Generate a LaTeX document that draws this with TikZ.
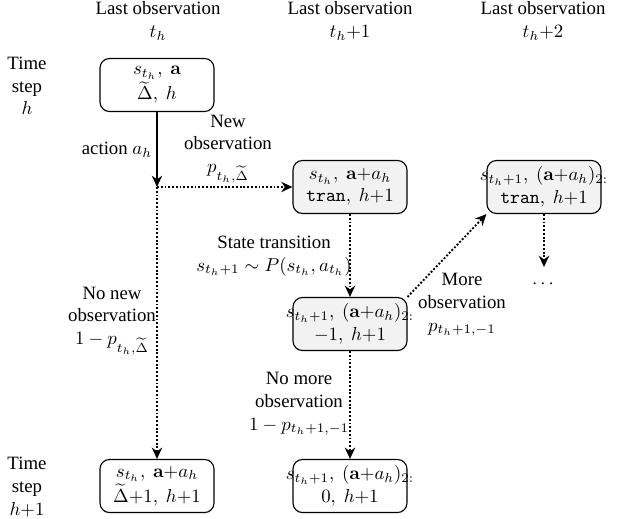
\documentclass[tikz,border=0pt]{standalone}
\usepackage[no-math]{fontspec}
\setmainfont{Liberation Serif}
\usetikzlibrary{arrows.meta}
\begin{document}
\begin{tikzpicture}[x=0.5319pt,y=-0.5319pt,
  statebox/.style={draw, line width=0.6pt, rounded corners=5pt, minimum width=60.6pt, minimum height=28.2pt, inner sep=0pt, align=center, font=\normalsize},
  graybox/.style={statebox, fill=gray!10},
  lbl/.style={align=center, inner sep=0pt},
  solidarrow/.style={line width=1pt, -{Stealth[length=6pt,width=5.5pt]}},
  dotarrow/.style={line width=1pt, densely dotted, -{Stealth[length=6pt,width=5.5pt]}}
]
\useasboundingbox (0,0) rectangle (619,518);
% column headers
\node[lbl] (c1) at (158,21) {Last observation\\$t_h$};
\node[lbl] (c2) at (350,21) {Last observation\\$t_h{+}1$};
\node[lbl] (c3) at (543,21) {Last observation\\$t_h{+}2$};
% row labels
\node[lbl] (r1) at (27,86) {Time\\step\\$h$};
\node[lbl] (r2) at (27,487) {Time\\step\\$h{+}1$};
% boxes
\node[statebox] (b1) at (157,85) {$s_{t_h},\ \mathbf{a}$\\$\widetilde{\Delta},\ h$};
\node[graybox] (b2) at (350,187) {$s_{t_h},\ \mathbf{a}{+}a_h$\\$\texttt{tran},\ h{+}1$};
\node[graybox] (b3) at (544,187) {\makebox[60pt]{$s_{t_h+1},\ (\mathbf{a}{+}a_h)_{2:}$}\\$\texttt{tran},\ h{+}1$};
\node[graybox] (b4) at (350,324) {\makebox[60pt]{$s_{t_h+1},\ (\mathbf{a}{+}a_h)_{2:}$}\\$-1,\ h{+}1$};
\node[statebox] (b5) at (157,486) {$s_{t_h},\ \mathbf{a}{+}a_h$\\$\widetilde{\Delta}{+}1,\ h{+}1$};
\node[statebox] (b6) at (350,486) {\makebox[60pt]{$s_{t_h+1},\ (\mathbf{a}{+}a_h)_{2:}$}\\$0,\ h{+}1$};
% junction and free ends
\coordinate (j) at (157,187);
\coordinate (dtip) at (544,267);
\node[inner sep=0pt] (dots) at (543,284) {$\cdots$};
% connectors
\draw[solidarrow] (b1.south) -- (j);
\draw[dotarrow] (j) -- (b2.west);
\draw[dotarrow] (j) -- (b5.north);
\draw[dotarrow] (b2.south) -- (b4.north);
\draw[dotarrow] (b4.north east) -- (b3.south west);
\draw[dotarrow] (b3.south) -- (dtip);
\draw[dotarrow] (b4.south) -- (b6.north);
% labels
\node[lbl] (la) at (117,150) {action $a_h$};
\node[lbl] (lb) at (228,149) {New\\observation\\$p_{t_h,\widetilde{\Delta}}$};
\node[lbl] (lc) at (112,321) {No new\\observation\\$1-p_{t_h,\widetilde{\Delta}}$};
\node[lbl] (ld) at (274,256) {State transition\\$s_{t_h+1}\sim P(s_{t_h},a_{t_h})$};
\node[lbl] (le) at (462,305) {More\\observation\\$p_{t_h+1,-1}$};
\node[lbl] (lf) at (299,404) {No more\\observation\\$1-p_{t_h+1,-1}$};
\end{tikzpicture}
\end{document}
